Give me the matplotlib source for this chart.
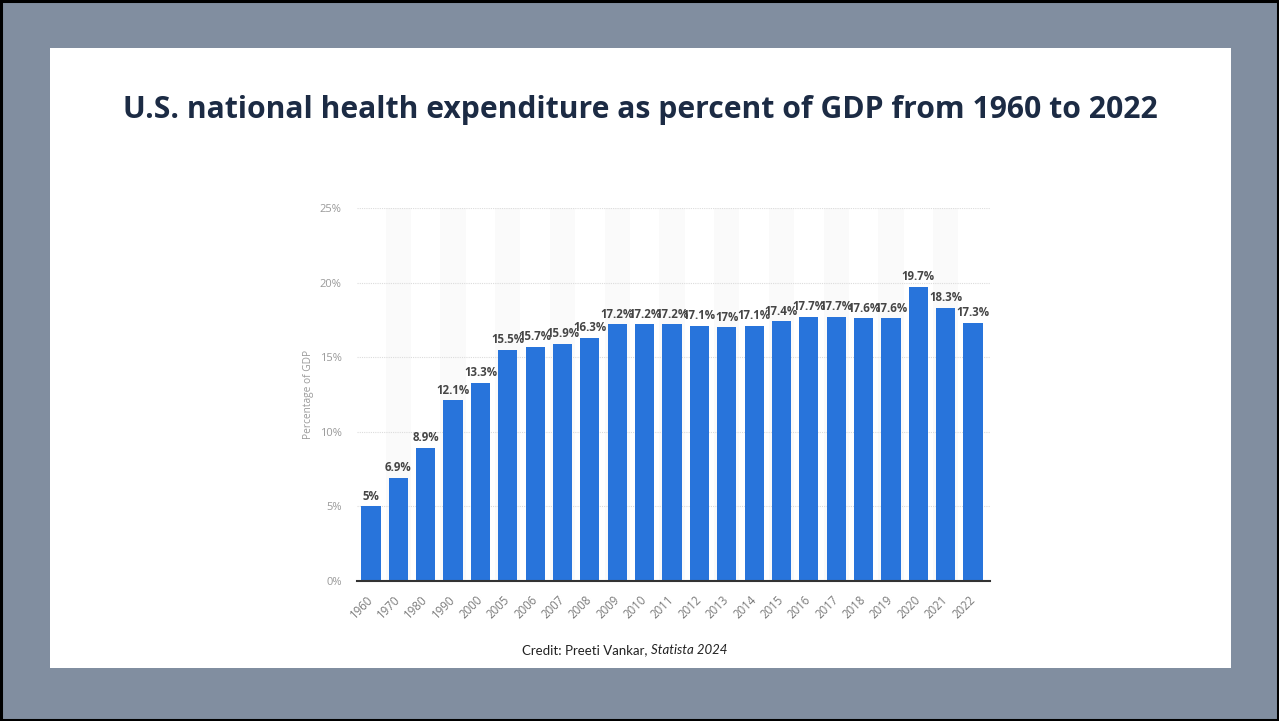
import matplotlib
matplotlib.use('Agg')
import matplotlib.pyplot as plt
from matplotlib.patches import Rectangle

years = ['1960', '1970', '1980', '1990', '2000', '2005', '2006', '2007', '2008', '2009',
         '2010', '2011', '2012', '2013', '2014', '2015', '2016', '2017', '2018', '2019',
         '2020', '2021', '2022']
values = [5, 6.9, 8.9, 12.1, 13.3, 15.5, 15.7, 15.9, 16.3, 17.2,
          17.2, 17.2, 17.1, 17, 17.1, 17.4, 17.7, 17.7, 17.6, 17.6,
          19.7, 18.3, 17.3]
y_ticks = [0, 5, 10, 15, 20, 25]

W, H = 1279, 721
fig = plt.figure(figsize=(W / 100, H / 100), dpi=100)
fig.patch.set_facecolor('#818ea0')

# frame + white panel (behind the axes)
fig.patches.append(Rectangle((1 / W, 1 / H), 1 - 2 / W, 1 - 2 / H, transform=fig.transFigure,
                             fill=False, edgecolor='black', linewidth=2.2, zorder=-2))
fig.patches.append(Rectangle((50 / W, 1 - 668 / H), (1231 - 50) / W, (668 - 48) / H,
                             transform=fig.transFigure, facecolor='white', edgecolor='none', zorder=-2))

fig.text(640 / W, 1 - 110 / H, 'U.S. national health expenditure as percent of GDP from 1960 to 2022',
         ha='center', va='center', fontsize=21.7, fontweight='bold', color='#1c2b44',
         family=['Open Sans', 'DejaVu Sans'])

ax = fig.add_axes([357 / W, 1 - 581 / H, (990 - 357) / W, (581 - 208) / H])
ax.set_facecolor('none')
x = list(range(len(years)))

# very faint alternating column stripes
for i in x:
    if i % 2 == 1:
        ax.axvspan(i - 0.46, i + 0.46, color='#fafafa', zorder=0, linewidth=0)

ax.set_ylim(0, 25)
ax.set_xlim(-0.51, len(years) - 1 + 0.62)
ax.set_yticks(y_ticks)
ax.set_yticklabels([f'{t}%' for t in y_ticks])
ax.yaxis.grid(True, color='#dcdcdc', linestyle=(0, (1, 1)), linewidth=0.8, zorder=1)
ax.set_axisbelow(True)

ax.bar(x, values, width=0.7, color='#2874db', zorder=3)

for xi, v in zip(x, values):
    lab = f'{v:g}%'
    ax.text(xi, v + 0.25, lab, ha='center', va='bottom', fontsize=8.3, fontweight='bold',
            color='#454545', family=['Open Sans', 'DejaVu Sans'], zorder=4)

for s in ['top', 'right', 'left']:
    ax.spines[s].set_visible(False)
ax.spines['bottom'].set_color('#333333')
ax.spines['bottom'].set_linewidth(1.5)
ax.spines['bottom'].set_zorder(5)

ax.set_xticks(x)
ax.set_xticklabels(years, rotation=45, ha='right', va='center', rotation_mode='anchor')
ax.tick_params(axis='x', length=0, pad=12, labelsize=8.3, labelcolor='#7a7a7a')
ax.tick_params(axis='y', length=0, pad=11, labelsize=8, labelcolor='#999999')
for lbl in ax.get_xticklabels() + ax.get_yticklabels():
    lbl.set_family(['Open Sans', 'DejaVu Sans'])

ax.set_ylabel('Percentage of GDP', fontsize=7.3, color='#9a9a9a', labelpad=4,
              family=['Open Sans', 'DejaVu Sans'])

fig.text(648 / W, 1 - 650 / H, 'Credit: Preeti Vankar,', ha='right', va='center',
         fontsize=9.5, color='#222222', family=['Lato', 'DejaVu Sans'])
fig.text(651 / W, 1 - 650 / H, 'Statista 2024', ha='left', va='center',
         fontsize=9.5, style='italic', color='#222222', family=['Lato', 'DejaVu Sans'])

fig.savefig('out.png', dpi=100, facecolor=fig.get_facecolor())
